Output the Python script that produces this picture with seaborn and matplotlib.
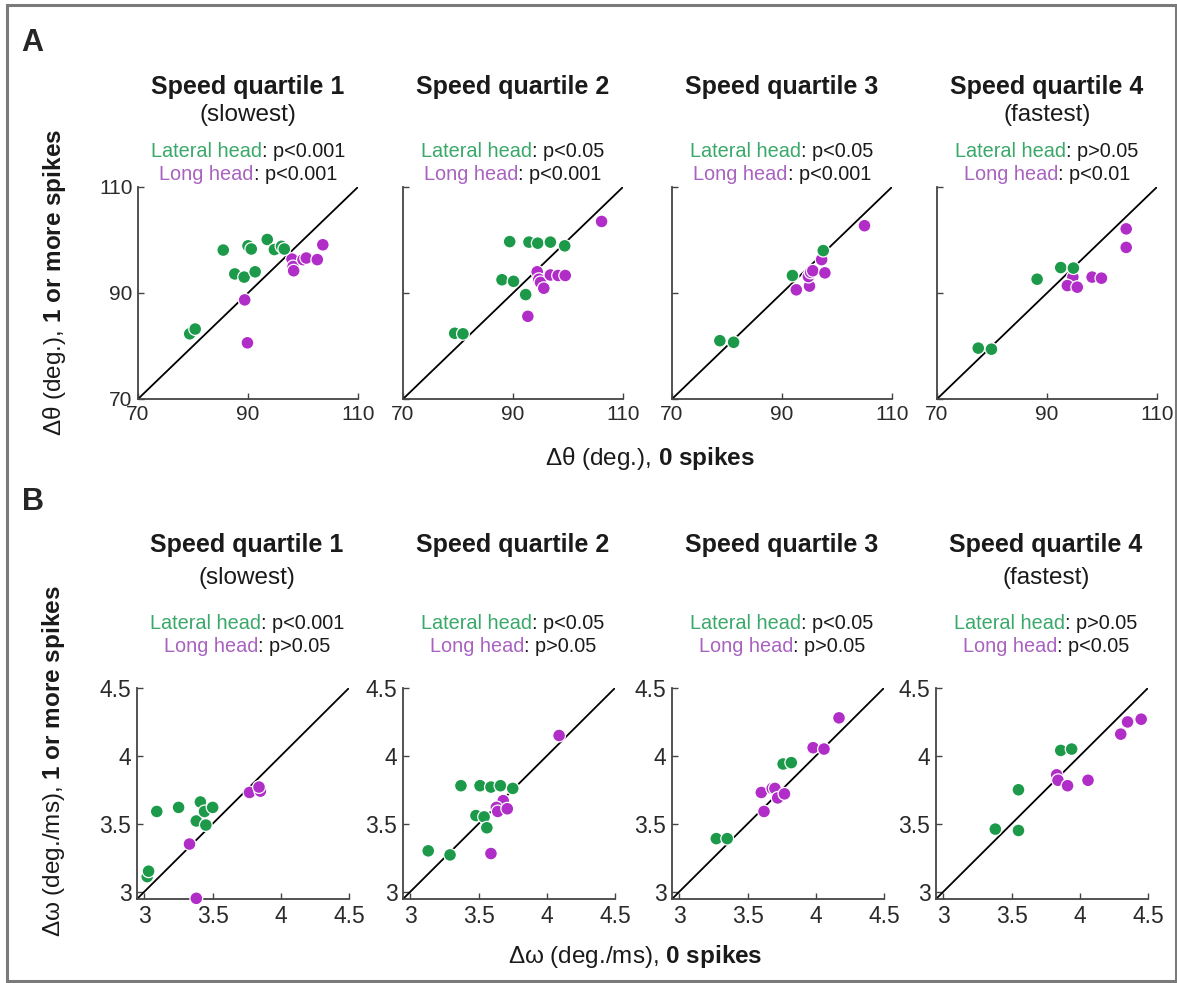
import numpy as np
import pandas as pd
import matplotlib
matplotlib.use("Agg")
import matplotlib.pyplot as plt
import matplotlib.transforms as mtrans
from matplotlib.patches import Rectangle
import seaborn as sns

# ---------------- data ----------------
# Panel A: delta theta (deg.), x = 0 spikes, y = 1 or more spikes
a1_lat_x = [79.4, 80.4, 85.5, 87.6, 89.3, 90.0, 90.6, 91.3, 93.5, 94.8, 96.1, 96.6]
a1_lat_y = [82.3, 83.2, 98.1, 93.6, 93.0, 98.9, 98.3, 94.0, 100.1, 98.2, 98.8, 98.3]
a1_long_x = [89.4, 89.9, 98.0, 98.2, 98.3, 100.0, 100.6, 102.6, 103.6]
a1_long_y = [88.7, 80.6, 96.4, 95.0, 94.2, 96.3, 96.6, 96.3, 99.1]

a2_lat_x = [79.4, 80.9, 88.0, 90.1, 89.4, 92.9, 94.5, 96.8, 99.4, 92.3]
a2_lat_y = [82.4, 82.3, 92.5, 92.2, 99.7, 99.6, 99.4, 99.6, 98.9, 89.7]
a2_long_x = [92.7, 94.4, 94.7, 95.0, 95.6, 96.8, 98.2, 99.5, 106.1]
a2_long_y = [85.6, 94.0, 92.6, 92.0, 90.9, 93.4, 93.3, 93.3, 103.5]

a3_lat_x = [78.7, 81.2, 91.9, 97.5]
a3_lat_y = [81.0, 80.7, 93.3, 98.0]
a3_long_x = [92.6, 95.0, 94.8, 95.2, 95.6, 97.8, 97.2, 105.0]
a3_long_y = [90.6, 91.3, 93.1, 93.9, 94.2, 93.8, 96.3, 102.7]

a4_lat_x = [77.5, 79.9, 88.2, 92.5, 94.8]
a4_lat_y = [79.6, 79.4, 92.6, 94.8, 94.7]
a4_long_x = [94.7, 93.7, 95.5, 98.2, 99.9, 104.4, 104.4]
a4_long_y = [93.0, 91.4, 91.1, 93.0, 92.8, 102.1, 98.6]

# Panel B: delta omega (deg./ms)
b1_lat_x = [3.02, 3.03, 3.09, 3.25, 3.38, 3.41, 3.44, 3.45, 3.50]
b1_lat_y = [3.11, 3.15, 3.59, 3.62, 3.52, 3.66, 3.59, 3.49, 3.62]
b1_long_x = [3.33, 3.38, 3.77, 3.85, 3.84]
b1_long_y = [3.35, 2.95, 3.73, 3.74, 3.77]

b2_lat_x = [3.13, 3.29, 3.37, 3.51, 3.59, 3.66, 3.75, 3.48, 3.54, 3.56]
b2_lat_y = [3.30, 3.27, 3.78, 3.78, 3.77, 3.78, 3.76, 3.56, 3.55, 3.47]
b2_long_x = [3.59, 3.68, 3.63, 3.64, 3.71, 4.09]
b2_long_y = [3.28, 3.67, 3.62, 3.59, 3.61, 4.15]

b3_lat_x = [3.27, 3.35, 3.76, 3.82]
b3_lat_y = [3.39, 3.39, 3.94, 3.95]
b3_long_x = [3.62, 3.60, 3.68, 3.70, 3.72, 3.77, 3.98, 4.06, 4.17]
b3_long_y = [3.59, 3.73, 3.76, 3.76, 3.69, 3.72, 4.06, 4.05, 4.28]

b4_lat_x = [3.38, 3.55, 3.55, 3.86, 3.94]
b4_lat_y = [3.46, 3.45, 3.75, 4.04, 4.05]
b4_long_x = [3.83, 3.84, 3.91, 4.06, 4.30, 4.35, 4.45]
b4_long_y = [3.86, 3.82, 3.78, 3.82, 4.16, 4.25, 4.27]

titles = ["Speed quartile 1", "Speed quartile 2", "Speed quartile 3", "Speed quartile 4"]
subtitles = ["(slowest)", "", "", "(fastest)"]
a_lat_p = ["p<0.001", "p<0.05", "p<0.05", "p>0.05"]
a_long_p = ["p<0.001", "p<0.001", "p<0.001", "p<0.01"]
b_lat_p = ["p<0.001", "p<0.05", "p<0.05", "p>0.05"]
b_long_p = ["p>0.05", "p>0.05", "p>0.05", "p<0.05"]
a_ticks = [70, 90, 110]
b_ticks = [3, 3.5, 4, 4.5]

# ---------------- style ----------------
sns.set_theme(style="ticks")
plt.rcParams["font.family"] = ["Liberation Sans", "DejaVu Sans"]
plt.rcParams["mathtext.fontset"] = "custom"
plt.rcParams["mathtext.rm"] = "Liberation Sans"
plt.rcParams["mathtext.it"] = "Liberation Sans:italic"
plt.rcParams["mathtext.bf"] = "Liberation Sans:bold"

GREEN = "#1c9a4a"
PURPLE = "#b02dc8"
GREEN_T = "#3aa86a"
PURPLE_T = "#a862bf"
AXC = "#444444"
TXT = "#1a1a1a"

W, H = 1177, 983
fig = plt.figure(figsize=(W / 100, H / 100), dpi=100)
fig.patch.set_facecolor("white")
ident = mtrans.IdentityTransform()
renderer = fig.canvas.get_renderer()


def px_axes(left, top, w, h):
    return fig.add_axes([left / W, 1 - (top + h) / H, w / W, h / H])


def ptext(x, y, s, **kw):
    return fig.text(x, H - y, s, transform=ident, **kw)


def multicolor(xc, yb, parts, size):
    texts = [ptext(0, yb, s, color=c, fontsize=size, ha="left", va="baseline")
             for s, c in parts]
    widths = [t.get_window_extent(renderer).width for t in texts]
    x = xc - sum(widths) / 2
    for t, w in zip(texts, widths):
        t.set_position((x, H - yb))
        x += w


def panel_df(lat_x, lat_y, long_x, long_y):
    return pd.DataFrame({
        "x": list(long_x) + list(lat_x),
        "y": list(long_y) + list(lat_y),
        "head": ["Long head"] * len(long_x) + ["Lateral head"] * len(lat_x),
    })


def style_axis(ax, lims, ticks, show_ylabels, labelsize):
    ax.set_xlim(lims)
    ax.set_ylim(lims)
    ax.plot(lims, lims, color="black", lw=1.3, zorder=1)
    ax.set_xticks(ticks)
    ax.set_yticks(ticks)
    ax.set_xticklabels([f"{t:g}" for t in ticks])
    if show_ylabels:
        ax.set_yticklabels([f"{t:g}" for t in ticks])
    else:
        ax.set_yticklabels([])
    for s in ["top", "right"]:
        ax.spines[s].set_visible(False)
    for s in ["left", "bottom"]:
        ax.spines[s].set_color(AXC)
        ax.spines[s].set_linewidth(1.3)
    ax.tick_params(direction="in", length=4, width=1, color=AXC,
                   labelsize=labelsize, pad=4, labelcolor="#2a2a2a")
    ax.set_xlabel("")
    ax.set_ylabel("")
    ax.set_facecolor("white")


pal = {"Long head": PURPLE, "Lateral head": GREEN}

# ---------------- Panel A ----------------
a_data = [
    (a1_lat_x, a1_lat_y, a1_long_x, a1_long_y),
    (a2_lat_x, a2_lat_y, a2_long_x, a2_long_y),
    (a3_lat_x, a3_lat_y, a3_long_x, a3_long_y),
    (a4_lat_x, a4_lat_y, a4_long_x, a4_long_y),
]
a_lefts = [138, 403, 672, 937]
for i, (d, left) in enumerate(zip(a_data, a_lefts)):
    ax = px_axes(left, 187, 220, 212)
    df = panel_df(*d)
    sns.scatterplot(data=df, x="x", y="y", hue="head", palette=pal, s=85,
                    edgecolor="white", linewidth=0.9, legend=False, ax=ax,
                    zorder=3, clip_on=False)
    style_axis(ax, (70, 110), a_ticks, i == 0, 15)
    xc = left + 110
    ptext(xc, 94, titles[i], fontsize=18, fontweight="bold", ha="center",
          va="baseline", color=TXT)
    if subtitles[i]:
        ptext(xc, 121, subtitles[i], fontsize=17.5, ha="center", va="baseline",
              color=TXT)
    multicolor(xc, 157, [("Lateral head", GREEN_T), (": " + a_lat_p[i], TXT)], 14.3)
    multicolor(xc, 180, [("Long head", PURPLE_T), (": " + a_long_p[i], TXT)], 14.3)

# ---------------- Panel B ----------------
b_data = [
    (b1_lat_x, b1_lat_y, b1_long_x, b1_long_y),
    (b2_lat_x, b2_lat_y, b2_long_x, b2_long_y),
    (b3_lat_x, b3_lat_y, b3_long_x, b3_long_y),
    (b4_lat_x, b4_lat_y, b4_long_x, b4_long_y),
]
b_lefts = [137, 403, 672, 936]
for i, (d, left) in enumerate(zip(b_data, b_lefts)):
    ax = px_axes(left, 688, 212, 211)
    df = panel_df(*d)
    sns.scatterplot(data=df, x="x", y="y", hue="head", palette=pal, s=85,
                    edgecolor="white", linewidth=0.9, legend=False, ax=ax,
                    zorder=3, clip_on=False)
    style_axis(ax, (2.945, 4.5), b_ticks, True, 16.5)
    xc = left + 110
    ptext(xc, 552, titles[i], fontsize=18, fontweight="bold", ha="center",
          va="baseline", color=TXT)
    if subtitles[i]:
        ptext(xc, 584, subtitles[i], fontsize=17.5, ha="center", va="baseline",
              color=TXT)
    multicolor(xc, 629, [("Lateral head", GREEN_T), (": " + b_lat_p[i], TXT)], 14.3)
    multicolor(xc, 652, [("Long head", PURPLE_T), (": " + b_long_p[i], TXT)], 14.3)

# ---------------- labels ----------------
ptext(650, 458, r"Δθ (deg.), $\mathbf{0\ spikes}$", fontsize=17.5, ha="center",
      va="center", color=TXT)
ptext(54, 283, r"Δθ (deg.), $\mathbf{1\ or\ more\ spikes}$", fontsize=17.5,
      ha="center", va="center", rotation=90, color=TXT)
ptext(635, 957, r"Δω (deg./ms), $\mathbf{0\ spikes}$", fontsize=17.5, ha="center",
      va="center", color=TXT)
ptext(54, 761, r"Δω (deg./ms), $\mathbf{1\ or\ more\ spikes}$", fontsize=17.5,
      ha="center", va="center", rotation=90, color=TXT)

ptext(32, 43, "A", fontsize=22, fontweight="bold", ha="center", va="center")
ptext(33, 502, "B", fontsize=22, fontweight="bold", ha="center", va="center")

# outer frame
fig.add_artist(Rectangle((7 / W, 1 - 981 / H), (1176 - 7) / W, (981 - 5) / H,
                         transform=fig.transFigure, fill=False,
                         edgecolor="#7a7a7a", linewidth=2.2))

fig.savefig("out.png", dpi=100, facecolor="white")
